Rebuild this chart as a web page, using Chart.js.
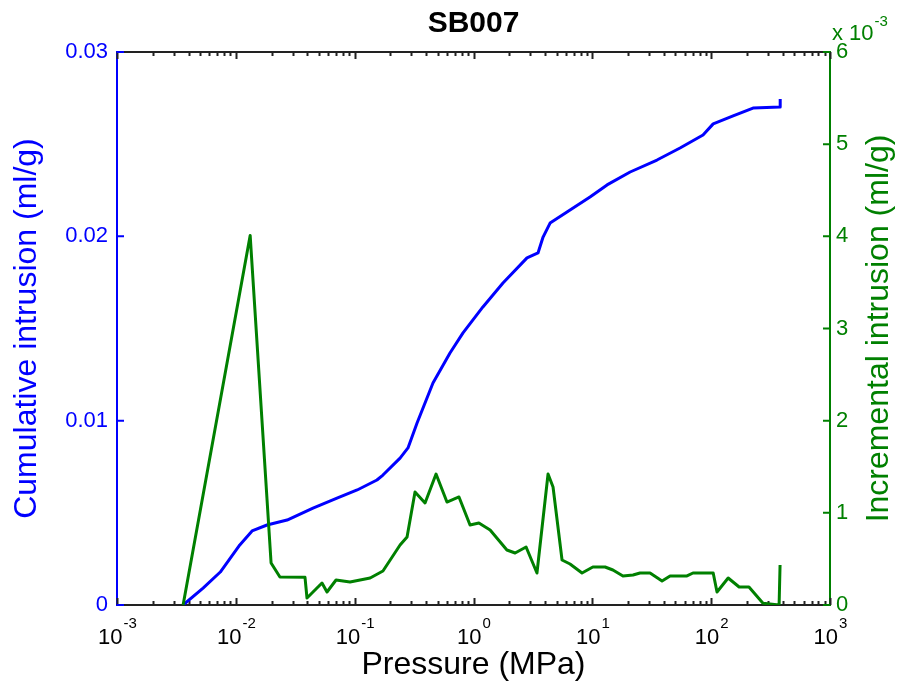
<!DOCTYPE html>
<html>
<head>
<meta charset="utf-8">
<script src="https://cdn.jsdelivr.net/npm/chart.js@4.4.0/dist/chart.umd.min.js"></script>
<style>
  html, body { margin: 0; padding: 0; background: #fff; }
</style>
</head>
<body>
<canvas id="chart" width="898" height="686"></canvas>
<script>
const chartTitle = 'SB007';
const xLabel = 'Pressure (MPa)';
const leftLabel = 'Cumulative intrusion (ml/g)';
const rightLabel = 'Incremental intrusion (ml/g)';

// cumulative intrusion (blue, left axis)
const cumPressure = [0.0036, 0.0053, 0.0074, 0.0108, 0.0137, 0.0183, 0.027, 0.0446, 0.071, 0.105,
  0.154, 0.173, 0.241, 0.281, 0.335, 0.456, 0.634, 0.816, 1.20, 1.77,
  2.82, 3.49, 3.85, 4.41, 6.12, 9.56, 13.3, 20.8, 35.0, 54.7,
  85.4, 104, 153, 225, 380, 381];
const cumIntrusion = [0, 0.00092, 0.00179, 0.00326, 0.00402, 0.00434, 0.00461, 0.00526, 0.0058, 0.00624,
  0.00678, 0.00705, 0.00797, 0.00852, 0.00987, 0.01204, 0.01367, 0.01476, 0.01617, 0.01747,
  0.01883, 0.0191, 0.01996, 0.02072, 0.02132, 0.02213, 0.02279, 0.02349, 0.02414, 0.02479,
  0.0255, 0.0261, 0.02653, 0.02696, 0.02702, 0.02745];

// incremental intrusion (green, right axis)
const incPressure = [0.0036, 0.0132, 0.0198, 0.0235, 0.0382, 0.0397, 0.0531, 0.0585, 0.0697, 0.0914,
  0.135, 0.173, 0.241, 0.276, 0.322, 0.391, 0.484, 0.598, 0.755, 0.935,
  1.11, 1.38, 1.91, 2.24, 2.77, 3.42, 4.24, 4.67, 5.56, 6.49,
  8.19, 10.1, 12.8, 14.9, 18.1, 22.0, 25.2, 30.6, 38.6, 45.1,
  62.6, 70.3, 104, 112, 139, 172, 208, 273, 373, 380];
const incIntrusion = [0, 0.00401, 0.000456, 0.000304, 0.000300, 0.000076, 0.000239, 0.000141, 0.000271, 0.000250,
  0.000293, 0.000369, 0.000651, 0.000738, 0.001226, 0.001107, 0.001421, 0.001117, 0.001172, 0.000868,
  0.000890, 0.000814, 0.000597, 0.000564, 0.000629, 0.000347, 0.001421, 0.001280, 0.000488, 0.000445,
  0.000347, 0.000412, 0.000412, 0.000380, 0.000315, 0.000325, 0.000347, 0.000347, 0.000260, 0.000315,
  0.000315, 0.000347, 0.000347, 0.000141, 0.000293, 0.000195, 0.000195, 0.000020, 0, 0.000434];

const xTicks = [1e-3, 1e-2, 1e-1, 1e0, 1e1, 1e2, 1e3];
const leftTicks = [0, 0.01, 0.02, 0.03];
const rightTicks = [0, 0.001, 0.002, 0.003, 0.004, 0.005, 0.006];

const FONT = "'Liberation Sans', Arial, Helvetica, sans-serif";
const BLUE = '#0000ff';
const GREEN = '#008000';
const AXIS = '#222222';

// matlab style axes: inner ticks, top box line, 10^n labels, exponent note
const matlabAxes = {
  id: 'matlabAxes',
  beforeDatasetsDraw(chart) {
    const { ctx, chartArea: a, scales } = chart;
    const x = scales.x, yl = scales.y, yr = scales.y1;
    ctx.save();
    ctx.lineWidth = 2;
    ctx.strokeStyle = AXIS;
    ctx.beginPath();
    ctx.moveTo(a.left, a.top);
    ctx.lineTo(a.right, a.top);
    for (let e = -3; e <= 3; e++) {
      for (let k = 1; k < 10; k++) {
        const v = k * Math.pow(10, e);
        if (v > 1e3) break;
        const px = Math.round(x.getPixelForValue(v)) + 0.5;
        const len = k === 1 ? 7 : 4;
        ctx.moveTo(px, a.bottom);
        ctx.lineTo(px, a.bottom - len);
        ctx.moveTo(px, a.top);
        ctx.lineTo(px, a.top + len);
      }
    }
    ctx.stroke();
    ctx.strokeStyle = BLUE;
    ctx.beginPath();
    yl.ticks.forEach(t => {
      const py = yl.getPixelForValue(t.value);
      ctx.moveTo(a.left, py);
      ctx.lineTo(a.left + 7, py);
    });
    ctx.stroke();
    ctx.strokeStyle = GREEN;
    ctx.beginPath();
    yr.ticks.forEach(t => {
      const py = yr.getPixelForValue(t.value);
      ctx.moveTo(a.right, py);
      ctx.lineTo(a.right - 7, py);
    });
    ctx.stroke();
    ctx.restore();
  },
  afterDraw(chart) {
    const { ctx, chartArea: a, scales } = chart;
    const x = scales.x;
    ctx.save();
    // title centred over the plot box
    ctx.fillStyle = '#000';
    ctx.textAlign = 'center';
    ctx.textBaseline = 'alphabetic';
    ctx.font = 'bold 30px ' + FONT;
    ctx.fillText(chartTitle, (a.left + a.right) / 2, 32);
    ctx.textAlign = 'left';
    x.ticks.forEach(t => {
      const px = x.getPixelForValue(t.value);
      const exp = String(Math.round(Math.log10(t.value)));
      ctx.font = '22px ' + FONT;
      const wBase = ctx.measureText('10').width;
      ctx.font = '15px ' + FONT;
      const wExp = ctx.measureText(exp).width;
      const x0 = px - (wBase + wExp) / 2;
      ctx.font = '22px ' + FONT;
      ctx.fillText('10', x0, 644);
      ctx.font = '15px ' + FONT;
      ctx.fillText(exp, x0 + wBase + 1, 628);
    });
    // exponent note over the right axis
    ctx.fillStyle = GREEN;
    ctx.font = '22px ' + FONT;
    ctx.fillText('x 10', a.right + 2, 40);
    const w = ctx.measureText('x 10').width;
    ctx.font = '15px ' + FONT;
    ctx.fillText('-3', a.right + 3 + w, 26);
    // right axis title, reading bottom to top
    ctx.font = '32px ' + FONT;
    ctx.textAlign = 'center';
    ctx.textBaseline = 'middle';
    ctx.translate(879, (a.top + a.bottom) / 2);
    ctx.rotate(-Math.PI / 2);
    ctx.fillText(rightLabel, 0, 0);
    ctx.restore();
  }
};

new Chart(document.getElementById('chart'), {
  type: 'scatter',
  data: {
    datasets: [
      {
        label: rightLabel,
        data: incPressure.map((p, i) => ({ x: p, y: incIntrusion[i] })),
        yAxisID: 'y1',
        showLine: true,
        borderColor: GREEN,
        backgroundColor: GREEN,
        borderWidth: 3,
        borderJoinStyle: 'round',
        pointRadius: 0
      },
      {
        label: leftLabel,
        data: cumPressure.map((p, i) => ({ x: p, y: cumIntrusion[i] })),
        yAxisID: 'y',
        showLine: true,
        borderColor: BLUE,
        backgroundColor: BLUE,
        borderWidth: 3,
        borderJoinStyle: 'round',
        pointRadius: 0
      }
    ]
  },
  options: {
    responsive: false,
    animation: false,
    layout: { padding: { top: 52 } },
    plugins: {
      legend: { display: false },
      tooltip: { enabled: false },
      title: { display: false }
    },
    scales: {
      x: {
        type: 'logarithmic',
        position: 'bottom',
        min: 1e-3,
        max: 1e3,
        grid: { display: false, drawTicks: false },
        border: { color: AXIS, width: 2 },
        ticks: { display: false },
        title: {
          display: true,
          text: xLabel,
          color: '#000',
          font: { family: FONT, size: 32, weight: 'normal' },
          padding: { top: 0, bottom: 2 }
        },
        afterBuildTicks: s => { s.ticks = xTicks.map(v => ({ value: v })); },
        afterFit: s => { s.height = 81; }
      },
      y: {
        position: 'left',
        min: 0,
        max: 0.03,
        grid: { display: false, drawTicks: false },
        border: { color: BLUE, width: 2 },
        ticks: {
          color: BLUE,
          padding: 9,
          font: { family: FONT, size: 22 },
          callback: v => v === 0 ? '0' : v.toFixed(2)
        },
        title: {
          display: true,
          text: leftLabel,
          color: BLUE,
          font: { family: FONT, size: 32, weight: 'normal' },
          padding: { top: 8, bottom: 0 }
        },
        afterBuildTicks: s => { s.ticks = leftTicks.map(v => ({ value: v })); },
        afterFit: s => { s.width = 117; }
      },
      y1: {
        position: 'right',
        min: 0,
        max: 0.006,
        grid: { display: false, drawTicks: false },
        border: { color: GREEN, width: 2 },
        ticks: {
          color: GREEN,
          padding: 6,
          font: { family: FONT, size: 22 },
          callback: v => String(Math.round(v * 1000))
        },
        afterBuildTicks: s => { s.ticks = rightTicks.map(v => ({ value: v })); },
        afterFit: s => { s.width = 68; }
      }
    }
  },
  plugins: [matlabAxes]
});
</script>
</body>
</html>
